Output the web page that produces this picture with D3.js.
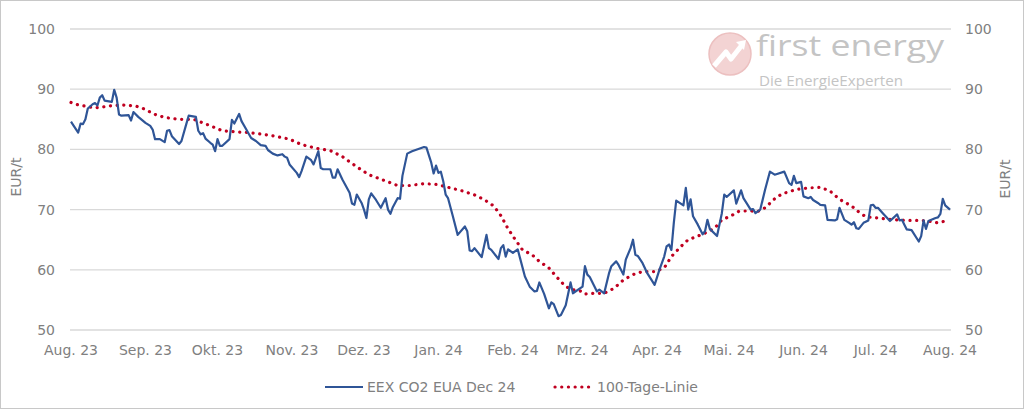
<!DOCTYPE html>
<html><head><meta charset="utf-8">
<script src="https://cdn.jsdelivr.net/npm/d3@7"></script>
<style>body{margin:0;background:#fff}svg{display:block}</style>
</head><body>
<svg id="c" width="1024" height="409"></svg>
<script>
// ---- data ----
const priceDates = ["2023-08-01","2023-08-02","2023-08-04","2023-08-05","2023-08-06","2023-08-07","2023-08-08","2023-08-10","2023-08-11","2023-08-12","2023-08-13","2023-08-14","2023-08-15","2023-08-18","2023-08-19","2023-08-20","2023-08-21","2023-08-22","2023-08-25","2023-08-26","2023-08-27","2023-08-29",
"2023-09-01","2023-09-03","2023-09-04","2023-09-05","2023-09-07","2023-09-09","2023-09-10","2023-09-11","2023-09-12","2023-09-15","2023-09-16","2023-09-18","2023-09-19","2023-09-22","2023-09-23","2023-09-24","2023-09-25","2023-09-26","2023-09-28","2023-09-29","2023-09-30",
"2023-10-01","2023-10-02","2023-10-03","2023-10-06","2023-10-07","2023-10-08","2023-10-09","2023-10-10","2023-10-11","2023-10-13","2023-10-15","2023-10-17","2023-10-19","2023-10-21","2023-10-22","2023-10-24","2023-10-26","2023-10-28","2023-10-29","2023-10-30","2023-10-31",
"2023-11-03","2023-11-04","2023-11-05","2023-11-07","2023-11-09","2023-11-10","2023-11-12","2023-11-13","2023-11-14","2023-11-17","2023-11-18","2023-11-19","2023-11-20","2023-11-22","2023-11-25","2023-11-26","2023-11-27","2023-11-28","2023-11-30",
"2023-12-01","2023-12-02","2023-12-03","2023-12-04","2023-12-06","2023-12-08","2023-12-10","2023-12-11","2023-12-12","2023-12-13","2023-12-15","2023-12-16","2023-12-17","2023-12-19","2023-12-21","2023-12-26","2023-12-27","2023-12-29","2023-12-30","2023-12-31",
"2024-01-01","2024-01-02","2024-01-03","2024-01-04","2024-01-05","2024-01-07","2024-01-09","2024-01-12","2024-01-13","2024-01-14","2024-01-15","2024-01-16","2024-01-19","2024-01-21","2024-01-22","2024-01-23","2024-01-26","2024-01-27","2024-01-28","2024-01-29","2024-01-30",
"2024-02-01","2024-02-03","2024-02-04","2024-02-06","2024-02-08","2024-02-10","2024-02-11","2024-02-12","2024-02-14","2024-02-16","2024-02-17","2024-02-18","2024-02-20","2024-02-21","2024-02-23","2024-02-25","2024-02-26",
"2024-03-01","2024-03-02","2024-03-03","2024-03-04","2024-03-07","2024-03-08","2024-03-10","2024-03-12","2024-03-13","2024-03-15","2024-03-16","2024-03-18","2024-03-19","2024-03-21","2024-03-22","2024-03-23","2024-03-24","2024-03-26","2024-03-28","2024-03-31",
"2024-04-02","2024-04-04","2024-04-05","2024-04-06","2024-04-07","2024-04-08","2024-04-09","2024-04-12","2024-04-13","2024-04-14","2024-04-15","2024-04-16","2024-04-18","2024-04-20","2024-04-21","2024-04-22","2024-04-23","2024-04-26","2024-04-28","2024-04-29","2024-04-30",
"2024-05-03","2024-05-04","2024-05-06","2024-05-07","2024-05-10","2024-05-11","2024-05-12","2024-05-14","2024-05-16","2024-05-18","2024-05-20","2024-05-24","2024-05-26","2024-05-27","2024-05-28","2024-05-29","2024-05-31",
"2024-06-01","2024-06-03","2024-06-04","2024-06-05","2024-06-07","2024-06-08","2024-06-10","2024-06-11","2024-06-14","2024-06-15","2024-06-16","2024-06-18","2024-06-20","2024-06-21","2024-06-22","2024-06-23","2024-06-24","2024-06-26","2024-06-28","2024-06-29","2024-06-30",
"2024-07-01","2024-07-02","2024-07-04","2024-07-07","2024-07-10","2024-07-11","2024-07-12","2024-07-13","2024-07-14","2024-07-16","2024-07-19","2024-07-20","2024-07-21","2024-07-22","2024-07-23","2024-07-26","2024-07-27","2024-07-28","2024-07-29","2024-07-30","2024-08-01"];
const priceValues = [84.6,84.0,82.8,84.3,84.2,85.0,86.8,87.5,87.7,87.3,88.6,89.0,88.1,87.9,89.9,88.6,85.8,85.6,85.7,84.8,86.2,85.4,
84.4,83.9,83.3,81.7,81.7,81.2,83.1,83.2,82.2,80.9,81.4,84.2,85.6,85.4,83.1,82.5,82.7,81.8,81.1,80.8,79.7,
81.7,80.6,80.6,81.7,84.9,84.3,85.1,85.9,84.7,83.3,81.9,81.4,80.7,80.6,79.9,79.3,79.0,79.2,78.8,78.6,77.5,
76.1,75.4,76.4,78.8,78.2,77.5,79.7,76.9,76.7,76.7,75.3,75.3,76.7,75.0,72.8,71.0,70.8,72.5,71.1,
70.0,68.6,71.7,72.7,71.6,70.3,71.9,70.0,69.3,70.4,71.9,71.8,75.6,79.3,79.7,80.4,80.3,77.8,76.0,77.3,
76.1,76.3,74.7,72.5,71.9,68.9,65.8,67.2,66.4,63.2,63.1,63.6,62.1,65.8,63.6,63.3,61.8,63.6,64.1,62.2,63.4,
62.8,63.4,61.9,58.9,57.2,56.4,56.5,57.9,56.0,53.6,54.6,54.3,52.3,52.5,54.1,57.9,56.1,
57.2,60.6,59.2,58.8,56.4,56.7,56.1,59.4,60.6,61.4,60.8,59.2,61.7,63.6,65.0,62.5,62.3,61.1,59.4,57.5,
60.0,62.2,63.9,64.2,63.3,67.8,71.5,70.7,73.6,70.0,71.7,68.9,67.5,65.9,66.4,68.3,66.8,65.6,69.4,72.5,72.1,
73.2,71.0,73.2,71.9,70.0,70.1,69.4,70.0,73.3,76.3,75.8,76.3,74.4,74.1,75.6,74.4,74.6,
72.2,71.9,72.1,71.6,71.1,70.8,70.7,68.3,68.2,68.4,70.3,68.3,67.8,67.5,67.9,66.9,66.8,67.8,68.2,70.7,70.8,
70.3,70.3,69.4,68.1,69.2,68.2,68.3,67.5,66.7,66.6,64.7,65.6,68.2,66.8,68.1,68.6,68.7,69.3,71.8,70.7,70.0];

const maDates = ["2023-08-01","2023-08-03","2023-08-08","2023-08-11","2023-08-17","2023-08-22","2023-08-28","2023-08-31",
"2023-09-05","2023-09-09","2023-09-15","2023-09-21","2023-09-25","2023-09-30","2023-10-03","2023-10-09","2023-10-14","2023-10-20","2023-10-25","2023-10-31",
"2023-11-05","2023-11-11","2023-11-17","2023-11-22","2023-11-28","2023-12-03","2023-12-09","2023-12-15","2023-12-20","2023-12-26","2023-12-31",
"2024-01-06","2024-01-11","2024-01-17","2024-01-21","2024-01-24","2024-01-27","2024-01-30","2024-02-02","2024-02-05","2024-02-09","2024-02-12","2024-02-16","2024-02-19","2024-02-23","2024-02-26",
"2024-03-01","2024-03-02","2024-03-06","2024-03-10","2024-03-14","2024-03-18","2024-03-22","2024-03-26","2024-03-31","2024-04-04","2024-04-07","2024-04-11","2024-04-14","2024-04-18","2024-04-21","2024-04-25","2024-04-28",
"2024-05-02","2024-05-05","2024-05-09","2024-05-13","2024-05-16","2024-05-20","2024-05-23","2024-05-27","2024-05-30","2024-06-03","2024-06-08","2024-06-12","2024-06-16","2024-06-21","2024-06-24","2024-06-27",
"2024-07-02","2024-07-06","2024-07-10","2024-07-14","2024-07-19","2024-07-23","2024-07-27","2024-07-31"];
const maValues = [87.8,87.5,87.1,86.9,87.2,87.4,87.2,86.8,
85.8,85.3,85.0,85.0,84.4,83.6,83.1,82.9,82.8,82.5,82.2,81.7,
80.8,80.2,79.8,78.8,77.1,75.8,74.9,74.0,74.0,74.3,74.2,
73.6,73.1,72.3,71.4,70.6,69.0,66.8,65.0,63.3,62.5,61.4,60.3,58.9,57.2,56.7,
56.4,56.0,56.1,56.1,56.9,58.3,59.2,59.7,59.7,60.3,62.2,63.9,65.0,65.6,66.1,66.9,68.3,
69.0,69.7,69.8,69.7,70.3,71.8,72.6,73.1,73.4,73.6,73.7,73.1,71.7,70.6,69.6,68.8,
68.6,68.4,68.3,68.2,68.2,68.1,67.8,68.2];

const monthLabels = ["Aug. 23","Sep. 23","Okt. 23","Nov. 23","Dez. 23","Jan. 24","Feb. 24","Mrz. 24","Apr. 24","Mai. 24","Jun. 24","Jul. 24","Aug. 24"];
const yTicks = [50,60,70,80,90,100];
const seriesNames = ["EEX CO2 EUA Dec 24","100-Tage-Linie"];
const axisTitle = "EUR/t";

// ---- drawing ----
const svg = d3.select("#c");
const W = 1024, H = 409;
const FONT = "'DejaVu Sans', sans-serif";
const TXT = "#808080";
const parse = d3.timeParse("%Y-%m-%d");
const x = d3.scaleTime().domain([parse("2023-08-01"), parse("2024-08-01")]).range([71, 950]);
const y = d3.scaleLinear().domain([50, 100]).range([330, 29]);

svg.append("rect").attr("x",0.5).attr("y",0.5).attr("width",W-1).attr("height",H-1)
  .attr("fill","#fff").attr("stroke","#c8c8c8");

// gridlines
svg.append("g").selectAll("line").data(yTicks).join("line")
  .attr("x1",70).attr("x2",951).attr("y1",d=>y(d)).attr("y2",d=>y(d))
  .attr("stroke","#d9d9d9").attr("stroke-width",1.3);

// watermark logo
const logo = svg.append("g");
logo.append("circle").attr("cx",730).attr("cy",54).attr("r",21).attr("fill","#f3d3d3").attr("stroke","#ecc0c0").attr("stroke-width",1.5);
logo.append("path").attr("d","M714,66 L726,52 L731,59 L742,45").attr("fill","none").attr("stroke","#fff").attr("stroke-width",5).attr("stroke-linejoin","round");
logo.append("path").attr("d","M736,42 L746,40 L744,50 Z").attr("fill","#fff");
logo.append("text").attr("x",756).attr("y",56).attr("font-family","'Open Sans', sans-serif").attr("font-size",30)
  .attr("fill","#c4c4c4").attr("textLength",188).attr("lengthAdjust","spacingAndGlyphs").text("first energy");
logo.append("text").attr("x",759).attr("y",86).attr("font-family","'Open Sans', sans-serif").attr("font-size",14)
  .attr("fill","#c4c4c4").attr("textLength",144).attr("lengthAdjust","spacingAndGlyphs").text("Die EnergieExperten");

// y labels
svg.append("g").selectAll("text").data(yTicks).join("text")
  .attr("x",55).attr("y",d=>y(d)+5).attr("text-anchor","end")
  .attr("font-family",FONT).attr("font-size",14).attr("fill",TXT).text(d=>d);
svg.append("g").selectAll("text").data(yTicks).join("text")
  .attr("x",965).attr("y",d=>y(d)+5).attr("text-anchor","start")
  .attr("font-family",FONT).attr("font-size",14).attr("fill",TXT).text(d=>d);

// axis titles
svg.append("text").attr("transform","translate(21,177) rotate(-90)").attr("text-anchor","middle")
  .attr("font-family",FONT).attr("font-size",14).attr("fill",TXT).text(axisTitle);
svg.append("text").attr("transform","translate(1010,179) rotate(-90)").attr("text-anchor","middle")
  .attr("font-family",FONT).attr("font-size",14).attr("fill",TXT).text(axisTitle);

// x labels
const monthTicks = d3.timeMonth.range(parse("2023-08-01"), d3.timeDay.offset(parse("2024-08-01"),1));
svg.append("g").selectAll("text").data(monthTicks).join("text")
  .attr("x",d=>x(d)).attr("y",355).attr("text-anchor","middle")
  .attr("font-family",FONT).attr("font-size",14).attr("fill",TXT).text((d,i)=>monthLabels[i]);

// series
const price = priceDates.map((d,i)=>({d:parse(d),v:priceValues[i]}));
const ma = maDates.map((d,i)=>({d:parse(d),v:maValues[i]}));
const line = d3.line().x(p=>x(p.d)).y(p=>y(p.v));
svg.append("path").attr("d",line(ma)).attr("fill","none").attr("stroke","#c00020")
  .attr("stroke-width",3.2).attr("stroke-linecap","round").attr("stroke-dasharray","0.1 6.6");
svg.append("path").attr("d",line(price)).attr("fill","none").attr("stroke","#2f5597")
  .attr("stroke-width",2.2).attr("stroke-linejoin","round");

// legend
const lg = svg.append("g");
lg.append("line").attr("x1",325).attr("x2",363).attr("y1",387).attr("y2",387).attr("stroke","#2f5597").attr("stroke-width",2.2);
lg.append("text").attr("x",367).attr("y",392).attr("font-family",FONT).attr("font-size",14).attr("fill",TXT).text(seriesNames[0]);
lg.append("line").attr("x1",555).attr("x2",592).attr("y1",387).attr("y2",387).attr("stroke","#c00020").attr("stroke-width",3.2)
  .attr("stroke-linecap","round").attr("stroke-dasharray","0.1 6.6");
lg.append("text").attr("x",597).attr("y",392).attr("font-family",FONT).attr("font-size",14).attr("fill",TXT).text(seriesNames[1]);
</script>
</body></html>
